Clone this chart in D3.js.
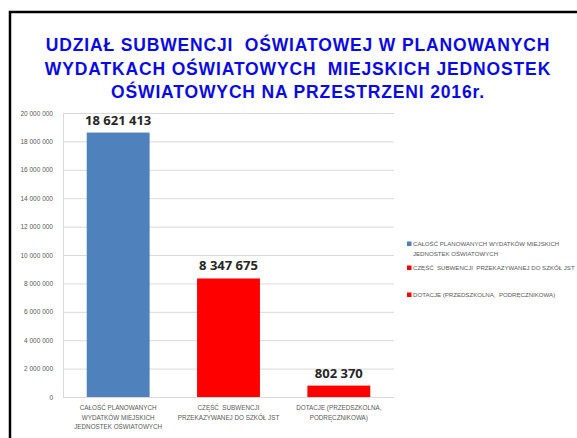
<!DOCTYPE html>
<html>
<head>
<meta charset="utf-8">
<script src="https://cdn.jsdelivr.net/npm/d3@7"></script>
<style>
  body { margin: 0; background: #fff; }
  svg { display: block; }
</style>
</head>
<body>
<svg width="577" height="438"></svg>
<script>
// chart data
const titleLines = [
  'UDZIAŁ SUBWENCJI  OŚWIATOWEJ W PLANOWANYCH',
  'WYDATKACH OŚWIATOWYCH  MIEJSKICH JEDNOSTEK',
  'OŚWIATOWYCH NA PRZESTRZENI 2016r.'
];
const categories = ['calosc', 'czesc', 'dotacje'];
const categoryLabels = [
  ['CAŁOŚĆ PLANOWANYCH', 'WYDATKÓW MIEJSKICH', 'JEDNOSTEK OŚWIATOWYCH'],
  ['CZĘŚĆ  SUBWENCJI', 'PRZEKAZYWANEJ DO SZKÓŁ JST'],
  ['DOTACJE (PRZEDSZKOLNA,', 'PODRĘCZNIKOWA)']
];
const values = [18621413, 8347675, 802370];
const barColors = ['#4F81BD', '#FF0000', '#FF0000'];
const legendLabels = [
  ['CAŁOŚĆ PLANOWANYCH WYDATKÓW MIEJSKICH', 'JEDNOSTEK OŚWIATOWYCH'],
  ['CZĘŚĆ  SUBWENCJI  PRZEKAZYWANEJ DO SZKÓŁ JST'],
  ['DOTACJE (PRZEDSZKOLNA,  PODRĘCZNIKOWA)']
];
const yTicks = [0, 2000000, 4000000, 6000000, 8000000, 10000000, 12000000, 14000000, 16000000, 18000000, 20000000];

const svg = d3.select('svg');
const fmt = v => d3.format(',')(v).replace(/,/g, ' ');

// frame
svg.append('path')
  .attr('d', 'M10,438 V12 H577')
  .attr('fill', 'none')
  .attr('stroke', '#000')
  .attr('stroke-width', 2.5);

// title
svg.append('g').selectAll('text')
  .data(titleLines)
  .enter().append('text')
  .attr('x', 298)
  .attr('y', (d, i) => 51 + i * 23.7)
  .attr('text-anchor', 'middle')
  .attr('font-family', 'Liberation Sans, Arial, sans-serif')
  .attr('font-weight', 'bold')
  .attr('font-size', 17.5)
  .attr('letter-spacing', 0.85)
  .style('white-space', 'pre')
  .attr('fill', '#0A0AE6')
  .text(d => d);

const margin = { left: 63, right: 394, top: 113, bottom: 397 };

const x = d3.scaleBand()
  .domain(categories)
  .range([margin.left, margin.right])
  .paddingInner(0.43)
  .paddingOuter(0.215);

const y = d3.scaleLinear()
  .domain([0, 20000000])
  .range([margin.bottom, margin.top]);

// gridlines
svg.append('g').selectAll('line')
  .data(yTicks)
  .enter().append('line')
  .attr('x1', margin.left)
  .attr('x2', margin.right)
  .attr('y1', d => y(d) + 0.5)
  .attr('y2', d => y(d) + 0.5)
  .attr('stroke', '#d9d9d9')
  .attr('stroke-width', 1);

// left axis line
svg.append('line')
  .attr('x1', margin.left + 0.5).attr('x2', margin.left + 0.5)
  .attr('y1', margin.top).attr('y2', margin.bottom)
  .attr('stroke', '#d9d9d9');

// y axis labels
const yAxis = svg.append('g')
  .attr('transform', `translate(${margin.left - 7},0)`)
  .call(d3.axisLeft(y).tickValues(yTicks).tickSize(0).tickFormat(fmt));
yAxis.select('.domain').remove();
yAxis.selectAll('text')
  .attr('font-family', 'Liberation Sans, Arial, sans-serif')
  .attr('font-size', 6.5)
  .attr('fill', '#595959');

// bars
svg.append('g').selectAll('rect')
  .data(values)
  .enter().append('rect')
  .attr('x', (d, i) => x(categories[i]))
  .attr('y', d => y(d))
  .attr('width', x.bandwidth())
  .attr('height', d => y(0) - y(d))
  .attr('fill', (d, i) => barColors[i]);

// value labels
svg.append('g').selectAll('text')
  .data(values)
  .enter().append('text')
  .attr('x', (d, i) => x(categories[i]) + x.bandwidth() / 2)
  .attr('y', d => y(d) - 8)
  .attr('text-anchor', 'middle')
  .attr('font-family', 'Open Sans, Liberation Sans, sans-serif')
  .attr('font-weight', 'bold')
  .attr('font-size', 13)
  .attr('fill', '#262626')
  .text(fmt);

// category labels
categories.forEach((c, i) => {
  svg.append('g').selectAll('text')
    .data(categoryLabels[i])
    .enter().append('text')
    .attr('x', x(c) + x.bandwidth() / 2)
    .attr('y', (d, j) => 410 + j * 9.5)
    .attr('text-anchor', 'middle')
    .attr('font-family', 'Liberation Sans, Arial, sans-serif')
    .attr('font-size', 6.3)
    .attr('fill', '#595959')
    .style('white-space', 'pre')
    .text(d => d);
});

// legend
const legendY = [244, 268, 295];
legendLabels.forEach((lines, i) => {
  svg.append('rect')
    .attr('x', 407)
    .attr('y', legendY[i] - 2.5)
    .attr('width', 4.5)
    .attr('height', 4.5)
    .attr('fill', barColors[i]);
  svg.append('g').selectAll('text')
    .data(lines)
    .enter().append('text')
    .attr('x', 413)
    .attr('y', (d, j) => legendY[i] + 2.2 + j * 10)
    .attr('font-family', 'Liberation Sans, Arial, sans-serif')
    .attr('font-size', 6.1)
    .attr('fill', '#595959')
    .style('white-space', 'pre')
    .text(d => d);
});
</script>
</body>
</html>
